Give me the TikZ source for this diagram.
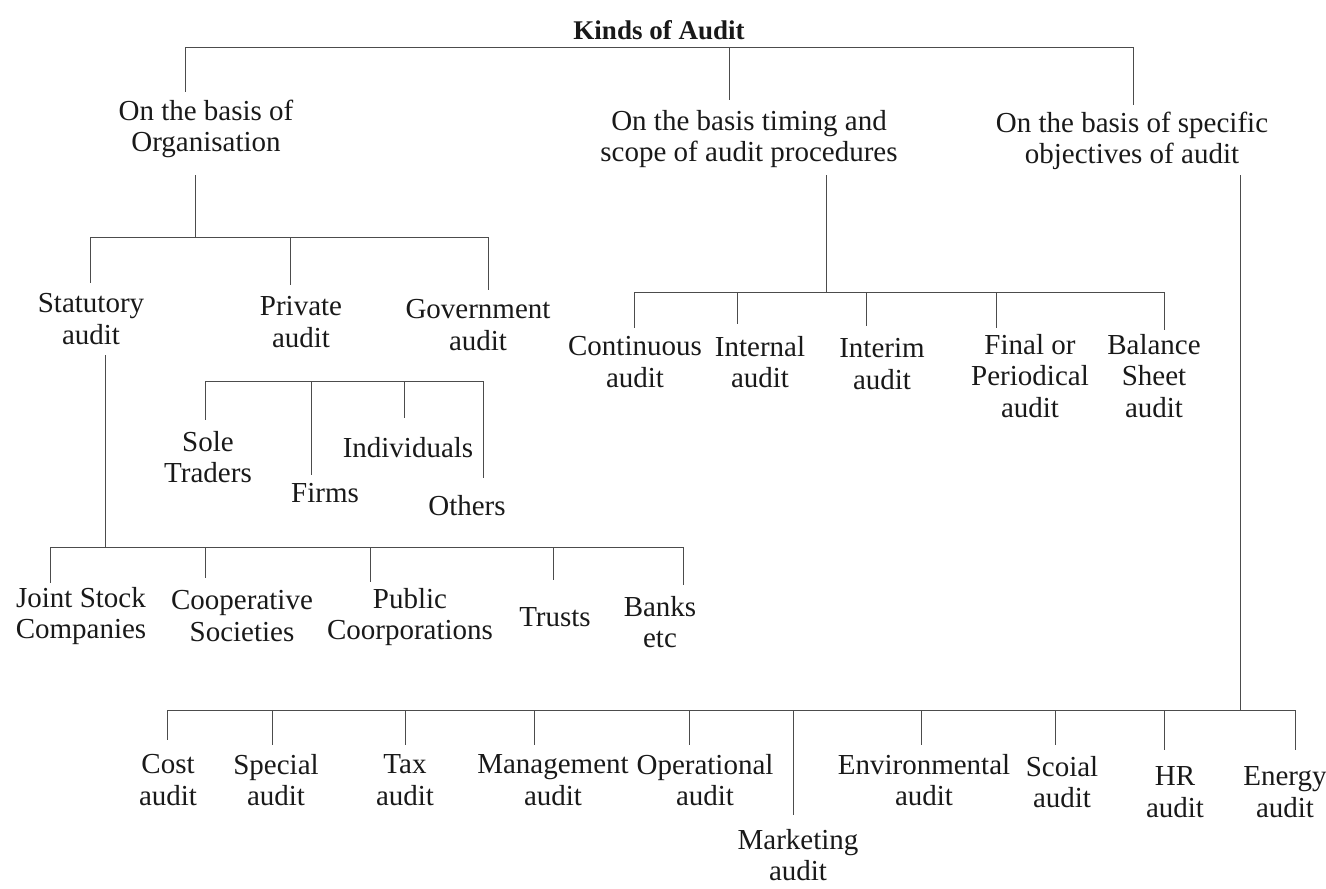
\documentclass[tikz,border=0pt]{standalone}
\usepackage{fontspec}
\setmainfont{Liberation Serif}
\begin{document}
\begin{tikzpicture}[x=1pt,y=-1pt,
  lbl/.style={align=center, text=black!90, inner sep=0pt,
              font=\fontsize{29}{31.5}\selectfont},
  ttl/.style={text=black!90, inner sep=0pt,
              font=\bfseries\fontsize{27}{30}\selectfont},
  wire/.style={draw=black!70, line width=0.8pt}]
\useasboundingbox (0,0) rectangle (1326,889);

% ---- headings ----
\node[ttl] (root) at (659,30) {Kinds of Audit};
\node[lbl] (org) at (206,129) {On the basis of\\Organisation};
\node[lbl] (tim) at (749,139) {On the basis timing and\\scope of audit procedures};
\node[lbl] (obj) at (1132,141) {On the basis of specific\\objectives of audit};

% ---- organisation branch ----
\node[lbl] (stat) at (91,319) {Statutory\\audit};
\node[lbl] (priv) at (301,322) {Private\\audit};
\node[lbl] (gov)  at (478,325) {Government\\audit};

\node[lbl] (sole)  at (208,457) {Sole\\Traders};
\node[lbl] (firms) at (325,493) {Firms};
\node[lbl] (indiv) at (408,448) {Individuals};
\node[lbl] (oth)   at (467,506) {Others};

\node[lbl] (jsc)  at (81,616)  {Joint Stock\\Companies};
\node[lbl] (coop) at (242,616) {Cooperative\\Societies};
\node[lbl] (pub)  at (410,617) {Public\\Coorporations};
\node[lbl] (trst) at (555,617) {Trusts};
\node[lbl] (bank) at (660,622) {Banks\\etc};

% ---- timing branch ----
\node[lbl] (cont) at (635,362)  {Continuous\\audit};
\node[lbl] (intl) at (760,362)  {Internal\\audit};
\node[lbl] (intm) at (882,364)  {Interim\\audit};
\node[lbl] (finl) at (1030,376) {Final or\\Periodical\\audit};
\node[lbl] (bal)  at (1154,376) {Balance\\Sheet\\audit};

% ---- objectives branch ----
\node[lbl] (cost) at (168,780)  {Cost\\audit};
\node[lbl] (spec) at (276,780)  {Special\\audit};
\node[lbl] (tax)  at (405,780)  {Tax\\audit};
\node[lbl] (mgmt) at (553,780)  {Management\\audit};
\node[lbl] (oper) at (705,780)  {Operational\\audit};
\node[lbl] (mkt)  at (798,855)  {Marketing\\audit};
\node[lbl] (env)  at (924,780)  {Environmental\\audit};
\node[lbl] (soc)  at (1062,782) {Scoial\\audit};
\node[lbl] (hr)   at (1175,792) {HR\\audit};
\node[lbl] (nrg)  at (1285,792) {Energy\\audit};

% ---- bars ----
\coordinate (top-l) at (185,47);   \coordinate (top-r) at (1133,47);
\coordinate (org-l) at (90,237);   \coordinate (org-r) at (488,237);
\coordinate (prv-l) at (205,381);  \coordinate (prv-r) at (483,381);
\coordinate (sta-l) at (50,547);   \coordinate (sta-r) at (683,547);
\coordinate (tim-l) at (634,292);  \coordinate (tim-r) at (1164,292);
\coordinate (obj-l) at (167,710);  \coordinate (obj-r) at (1295,710);

% drops from a heading down to its bar
\coordinate (d-org) at (195,175);
\coordinate (d-sta) at (105,355);
\coordinate (d-tim) at (826,175);
\coordinate (d-obj) at (1240,175);

% stub ends, just above each label
\coordinate (t-org)  at (185,92);
\coordinate (t-tim)  at (729,100);
\coordinate (t-obj)  at (1133,105);
\coordinate (t-stat) at (90,283);
\coordinate (t-priv) at (290,285);
\coordinate (t-gov)  at (488,290);
\coordinate (t-sole) at (205,420);
\coordinate (t-firm) at (311,475);
\coordinate (t-ind)  at (404,418);
\coordinate (t-oth)  at (483,478);
\coordinate (t-jsc)  at (50,583);
\coordinate (t-coop) at (205,578);
\coordinate (t-pub)  at (370,582);
\coordinate (t-trst) at (553,580);
\coordinate (t-bank) at (683,585);
\coordinate (t-cont) at (634,328);
\coordinate (t-intl) at (737,324);
\coordinate (t-intm) at (866,326);
\coordinate (t-finl) at (996,328);
\coordinate (t-bal)  at (1164,330);
\coordinate (t-cost) at (167,740);
\coordinate (t-spec) at (272,745);
\coordinate (t-tax)  at (405,745);
\coordinate (t-mgmt) at (534,745);
\coordinate (t-oper) at (689,745);
\coordinate (t-mkt)  at (793,815);
\coordinate (t-env)  at (921,745);
\coordinate (t-soc)  at (1055,745);
\coordinate (t-hr)   at (1164,750);
\coordinate (t-nrg)  at (1295,750);

\begin{scope}[wire]
  \draw (top-l) -- (top-r);
  \draw (org-l) -- (org-r);
  \draw (prv-l) -- (prv-r);
  \draw (sta-l) -- (sta-r);
  \draw (tim-l) -- (tim-r);
  \draw (obj-l) -- (obj-r);

  \draw (d-org) -- (d-org |- org-l);
  \draw (d-sta) -- (d-sta |- sta-l);
  \draw (d-tim) -- (d-tim |- tim-l);
  \draw (d-obj) -- (d-obj |- obj-l);

  \foreach \t in {t-org,t-tim,t-obj}
    \draw (\t |- top-l) -- (\t);
  \foreach \t in {t-stat,t-priv,t-gov}
    \draw (\t |- org-l) -- (\t);
  \foreach \t in {t-sole,t-firm,t-ind,t-oth}
    \draw (\t |- prv-l) -- (\t);
  \foreach \t in {t-jsc,t-coop,t-pub,t-trst,t-bank}
    \draw (\t |- sta-l) -- (\t);
  \foreach \t in {t-cont,t-intl,t-intm,t-finl,t-bal}
    \draw (\t |- tim-l) -- (\t);
  \foreach \t in {t-cost,t-spec,t-tax,t-mgmt,t-oper,t-mkt,t-env,t-soc,t-hr,t-nrg}
    \draw (\t |- obj-l) -- (\t);
\end{scope}
\end{tikzpicture}
\end{document}
